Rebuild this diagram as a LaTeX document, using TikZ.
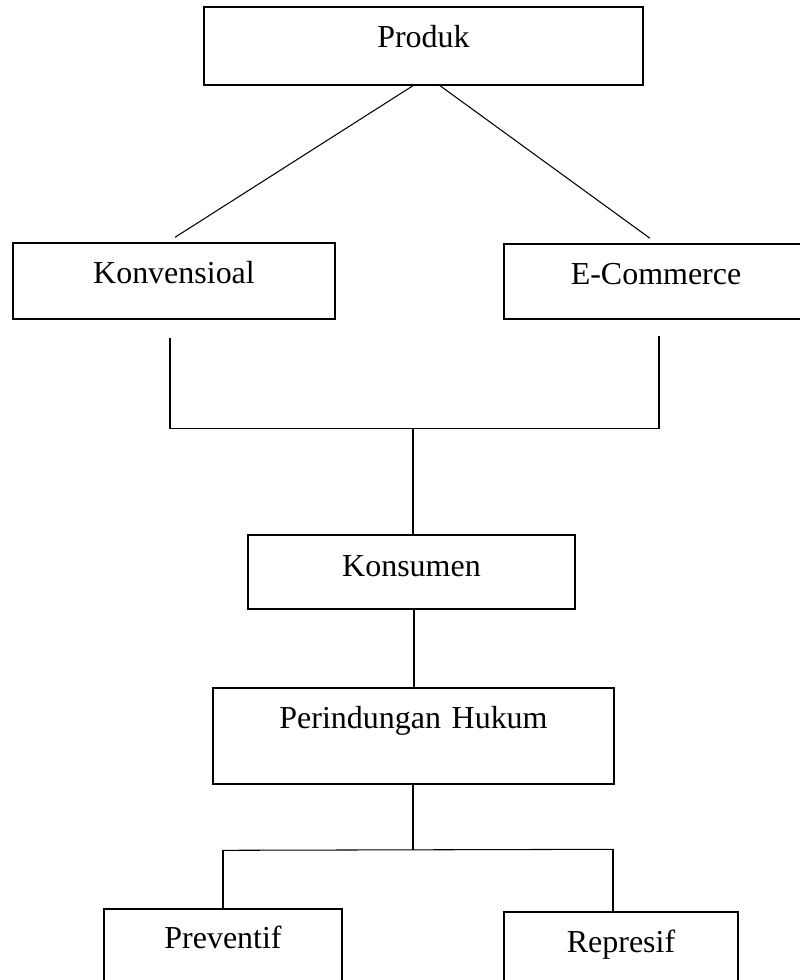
\documentclass[tikz,border=0pt]{standalone}
\usepackage{fontspec}
\setmainfont{Liberation Serif}
\usepackage{tikz}
\usetikzlibrary{calc, positioning}

\begin{document}
\begin{tikzpicture}[
  x=0.02cm, y=-0.02cm,
  every node/.style={font=\fontsize{18.2}{22}\selectfont},
  kotak/.style={rectangle, draw=black, line width=0.8pt, inner sep=0pt, align=center},
  garis/.style={draw=black, line width=0.6pt},
]
\useasboundingbox (0,0) rectangle (800,980);
\clip (0,0) rectangle (800,980);

% Produk
\node[kotak, text width=8.78cm, text height=0.82cm, text depth=0.74cm] (produk) at (423.5, 46) {Produk};

% Jalur penjualan
\node[kotak, text width=6.44cm, text height=0.80cm, text depth=0.72cm] (konv) at (174, 281) {Konvensioal};
\node[kotak, text width=6.08cm, text height=0.80cm, text depth=0.70cm] (ecom) at (656, 281.5) {E-Commerce};

% Konsumen
\node[kotak, text width=6.54cm, text height=0.82cm, text depth=0.66cm] (kons) at (411.5, 572) {Konsumen};

% Perlindungan
\node[kotak, text width=8.02cm, text height=0.80cm, text depth=1.12cm] (hukum) at (413.5, 736) {Perindungan Hukum};

% Bentuk perlindungan
\node[kotak, text width=4.76cm, text height=0.78cm, text depth=1.24cm] (prev) at (223, 959.5) {Preventif};
\node[kotak, text width=4.68cm, text height=0.80cm, text depth=1.16cm] (repr) at (621, 961) {Represif};

% Titik cabang
\coordinate (kiri1) at ($(konv.south)+(-4,18)$);
\coordinate (kanan1) at ($(ecom.south)+(3,16)$);
\coordinate (tengah1) at ($(kons.north)+(1.5,-106)$);
\coordinate (tengah2) at ($(hukum.south)+(-0.5,65)$);
\coordinate (kiri2) at ($(prev.north)+(0,-58)$);
\coordinate (kanan2) at ($(repr.north)+(-8,-62)$);

% Hubungan
\draw[garis] ($(produk.south)+(-10.5,0)$) -- ($(konv.north)+(1,-5)$);
\draw[garis] ($(produk.south)+(16.5,0)$) -- ($(ecom.north)+(-6,-5)$);
\draw[garis] (kiri1) -- (kiri1 |- tengah1) -- (kanan1 |- tengah1) -- (kanan1);
\draw[garis] (tengah1) -- ($(kons.north)+(1.5,0)$);
\draw[garis] ($(kons.south)+(2.5,0)$) -- ($(hukum.north)+(0.5,0)$);
\draw[garis] ($(hukum.south)+(-0.5,0)$) -- (tengah2);
\draw[garis] (kiri2) -- (kanan2);
\draw[garis] (kiri2) -- (prev.north);
\draw[garis] (kanan2) -- ($(repr.north)+(-8,0)$);

\end{tikzpicture}
\end{document}
